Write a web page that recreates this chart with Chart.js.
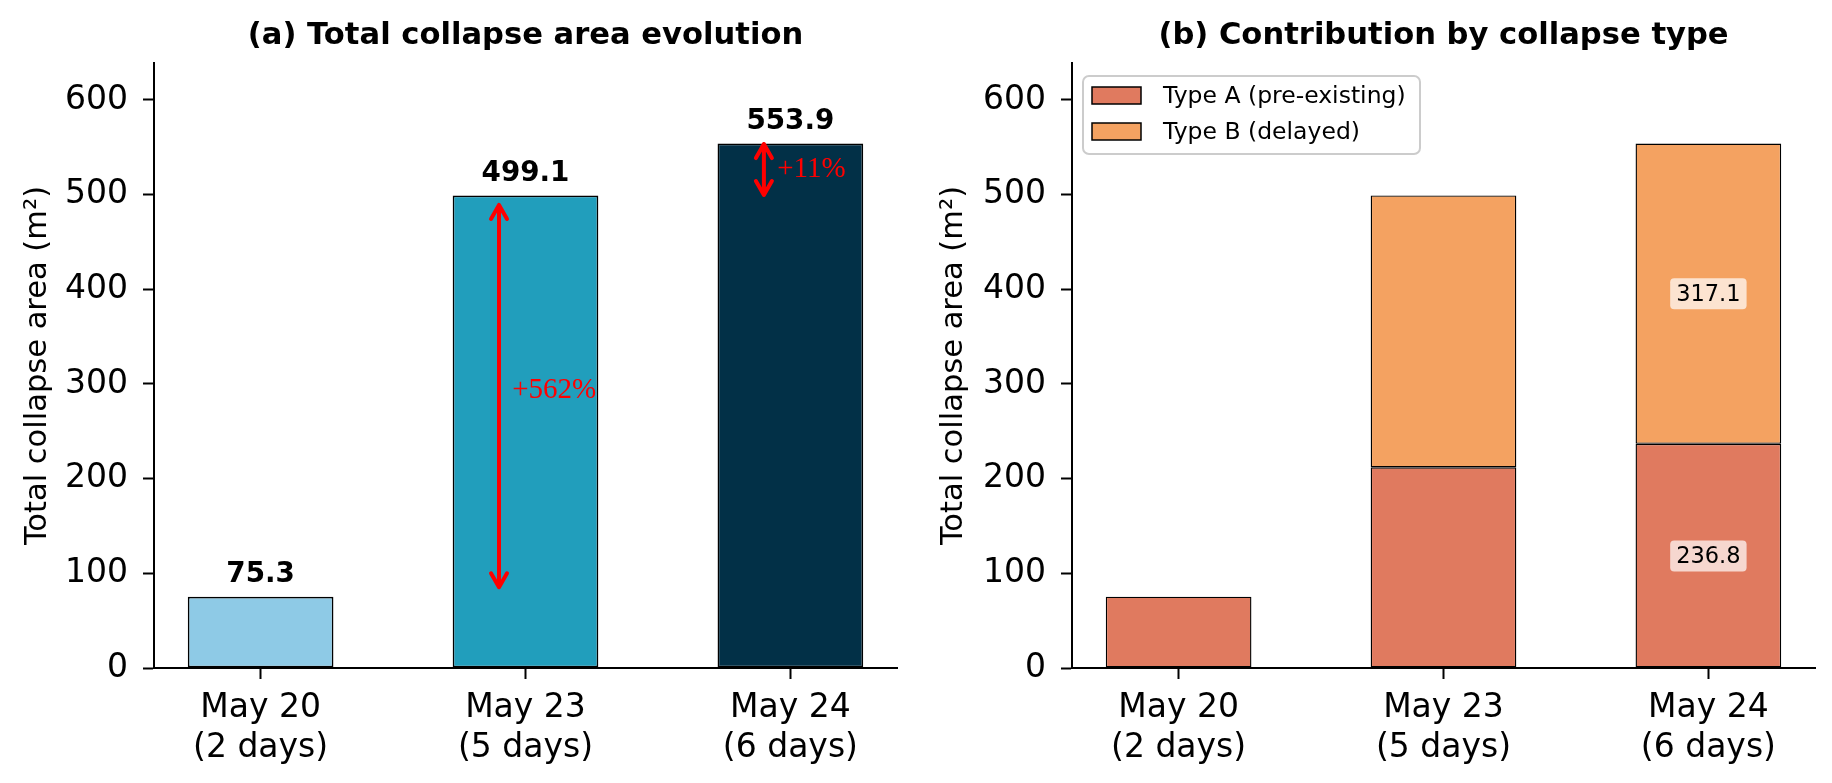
<!DOCTYPE html>
<html>
<head>
<meta charset="utf-8">
<title>Collapse area</title>
<script src="https://cdn.jsdelivr.net/npm/chart.js@4.4.1/dist/chart.umd.min.js"></script>
<style>
  html, body { margin: 0; padding: 0; background: #fff; }
  #wrap { position: relative; width: 1832px; height: 783px; }
  .panel { position: absolute; top: 0; width: 916px; height: 783px; }
</style>
</head>
<body>
<div id="wrap">
  <div class="panel" style="left:0"><canvas id="chartA" width="916" height="783"></canvas></div>
  <div class="panel" style="left:916px"><canvas id="chartB" width="916" height="783"></canvas></div>
</div>
<script>
// data
const dates = ["May 20", "May 23", "May 24"];
const spans = ["(2 days)", "(5 days)", "(6 days)"];
const totals = [75.3, 499.1, 553.9];
const typeA = [75.3, 212.0, 236.8];
const typeB = [0, 287.1, 317.1];
const yTicks = [0, 100, 200, 300, 400, 500, 600];
const changeLabels = ["+562%", "+11%"];
const changePad = [10, 0.5]; // arrow ends pulled in from bar tops (m²)

// styles
const FONT = '"DejaVu Sans"';
const barColors = ["#8ecae6", "#219ebc", "#023047"];
const colorA = "#e07a5f";
const colorB = "#f4a261";
const Y_MAX = 639;

function baseOptions(axisLeft, padRight) {
  return {
    responsive: false,
    animation: false,
    devicePixelRatio: 1,
    layout: { padding: { left: 0, right: padRight, top: 63, bottom: 0 } },
    plugins: {
      legend: { display: false },
      tooltip: { enabled: false },
      title: { display: false }
    },
    scales: {
      x: {
        type: "linear",
        min: -0.4025,
        max: 2.4025,
        offset: false,
        stacked: true,
        afterBuildTicks: (s) => { s.ticks = dates.map((d, i) => ({ value: i })); },
        afterFit: (s) => { s.height = 115; },
        grid: { display: true, drawOnChartArea: false, drawTicks: true, tickLength: 11,
                tickWidth: 2, tickColor: "#000", offset: false },
        border: { display: true, color: "#000", width: 2 },
        ticks: {
          color: "#000", padding: 10, autoSkip: false, maxRotation: 0,
          font: { family: FONT, size: 33 },
          callback: (v) => [dates[v], spans[v]]
        }
      },
      y: {
        type: "linear",
        min: 0,
        max: Y_MAX,
        stacked: true,
        afterBuildTicks: (s) => { s.ticks = yTicks.map((v) => ({ value: v })); },
        afterFit: (s) => { s.width = axisLeft; },
        grid: { display: true, drawOnChartArea: false, drawTicks: true, tickLength: 11,
                tickWidth: 2, tickColor: "#000" },
        border: { display: true, color: "#000", width: 2 },
        ticks: { color: "#000", padding: 15, font: { family: FONT, size: 33 } },
        title: {
          display: true, text: "Total collapse area (m²)", color: "#000",
          font: { family: FONT, size: 30.5 }, padding: { top: 20, bottom: 0 }
        }
      }
    }
  };
}

// panel title drawn over the plot area centre
function titlePlugin(text) {
  return {
    id: "panelTitle",
    afterDraw(chart) {
      const { ctx, chartArea } = chart;
      ctx.save();
      ctx.font = "bold 30.6px " + FONT;
      ctx.fillStyle = "#000";
      ctx.textAlign = "center";
      ctx.textBaseline = "middle";
      ctx.fillText(text, (chartArea.left + chartArea.right) / 2, 36);
      ctx.restore();
    }
  };
}

function drawArrow(ctx, x, yLow, yHigh) {
  const hw = 8, hl = 14;
  ctx.save();
  ctx.strokeStyle = "#ff0000";
  ctx.lineWidth = 4;
  ctx.lineCap = "round";
  ctx.lineJoin = "round";
  ctx.beginPath();
  ctx.moveTo(x, yLow);
  ctx.lineTo(x, yHigh);
  ctx.moveTo(x - hw, yHigh + hl); ctx.lineTo(x, yHigh); ctx.lineTo(x + hw, yHigh + hl);
  ctx.moveTo(x - hw, yLow - hl); ctx.lineTo(x, yLow); ctx.lineTo(x + hw, yLow - hl);
  ctx.stroke();
  ctx.restore();
}

const annotateA = {
  id: "annotateA",
  afterDatasetsDraw(chart) {
    const { ctx } = chart;
    const xs = chart.scales.x, ys = chart.scales.y;
    ctx.save();
    // values on top of bars
    ctx.font = "bold 27.8px " + FONT;
    ctx.fillStyle = "#000";
    ctx.textAlign = "center";
    ctx.textBaseline = "middle";
    totals.forEach((v, i) => {
      ctx.fillText(v.toFixed(1), xs.getPixelForValue(i), ys.getPixelForValue(v) - 22);
    });
    // growth arrows between consecutive dates
    changeLabels.forEach((lab, i) => {
      const lo = totals[i] + changePad[i];
      const hi = totals[i + 1] - changePad[i];
      const x = xs.getPixelForValue(i + 1 - 0.1);
      drawArrow(ctx, x, ys.getPixelForValue(lo), ys.getPixelForValue(hi));
      ctx.font = '29px "Liberation Serif"';
      ctx.fillStyle = "#ff0000";
      ctx.textAlign = "left";
      const shift = i === 0 ? -6 : 0;
      ctx.fillText(lab, xs.getPixelForValue(i + 1 - 0.05), ys.getPixelForValue((lo + hi) / 2) + shift);
    });
    ctx.restore();
  }
};

function roundRect(ctx, x, y, w, h, r) {
  ctx.beginPath();
  ctx.moveTo(x + r, y);
  ctx.arcTo(x + w, y, x + w, y + h, r);
  ctx.arcTo(x + w, y + h, x, y + h, r);
  ctx.arcTo(x, y + h, x, y, r);
  ctx.arcTo(x, y, x + w, y, r);
  ctx.closePath();
}

const annotateB = {
  id: "annotateB",
  afterDatasetsDraw(chart) {
    const { ctx, chartArea } = chart;
    const xs = chart.scales.x, ys = chart.scales.y;
    ctx.save();
    // segment values for the last date
    const last = dates.length - 1;
    const segs = [[0, typeA[last]], [typeA[last], typeA[last] + typeB[last]]];
    ctx.font = "22.5px " + FONT;
    ctx.textAlign = "center";
    ctx.textBaseline = "middle";
    segs.forEach(([a, b]) => {
      const txt = (b - a).toFixed(1);
      const cx = xs.getPixelForValue(last);
      const cy = ys.getPixelForValue((a + b) / 2);
      const w = ctx.measureText(txt).width + 12;
      ctx.fillStyle = "rgba(255,255,255,0.7)";
      roundRect(ctx, cx - w / 2, cy - 15.5, w, 31, 4);
      ctx.fill();
      ctx.fillStyle = "#000";
      ctx.fillText(txt, cx, cy + 1);
    });

    // legend box in the upper-left corner
    const lx = chartArea.left + 11, ly = chartArea.top + 13;
    ctx.fillStyle = "rgba(255,255,255,0.8)";
    ctx.strokeStyle = "#cccccc";
    ctx.lineWidth = 2;
    roundRect(ctx, lx, ly, 337, 78, 6);
    ctx.fill();
    ctx.stroke();
    ctx.font = "23.5px " + FONT;
    ctx.textAlign = "left";
    chart.data.datasets.forEach((ds, i) => {
      const ry = ly + 19.5 + i * 36;
      ctx.fillStyle = ds.backgroundColor;
      ctx.fillRect(lx + 9, ry - 8.5, 49, 17);
      ctx.strokeStyle = "#000";
      ctx.lineWidth = 1.5;
      ctx.strokeRect(lx + 9, ry - 8.5, 49, 17);
      ctx.fillStyle = "#000";
      ctx.fillText(ds.label, lx + 80, ry + 1);
    });
    ctx.restore();
  }
};

new Chart(document.getElementById("chartA"), {
  type: "bar",
  data: {
    datasets: [{
      label: "Total",
      data: totals.map((v, i) => ({ x: i, y: v })),
      backgroundColor: barColors,
      borderColor: "#000",
      borderWidth: 1.7,
      borderSkipped: false,
      barPercentage: 0.55,
      categoryPercentage: 1
    }]
  },
  options: baseOptions(154, 19),
  plugins: [titlePlugin("(a) Total collapse area evolution"), annotateA]
});

new Chart(document.getElementById("chartB"), {
  type: "bar",
  data: {
    datasets: [
      {
        label: "Type A (pre-existing)",
        data: typeA.map((v, i) => ({ x: i, y: v })),
        backgroundColor: colorA,
        borderColor: "#000",
        borderWidth: 1.4,
        borderSkipped: false,
        barPercentage: 0.55,
        categoryPercentage: 1
      },
      {
        label: "Type B (delayed)",
        data: typeB.map((v, i) => ({ x: i, y: v })),
        backgroundColor: colorB,
        borderColor: "#000",
        borderWidth: 1.4,
        borderSkipped: false,
        barPercentage: 0.55,
        categoryPercentage: 1
      }
    ]
  },
  options: baseOptions(156, 17),
  plugins: [titlePlugin("(b) Contribution by collapse type"), annotateB]
});
</script>
</body>
</html>
